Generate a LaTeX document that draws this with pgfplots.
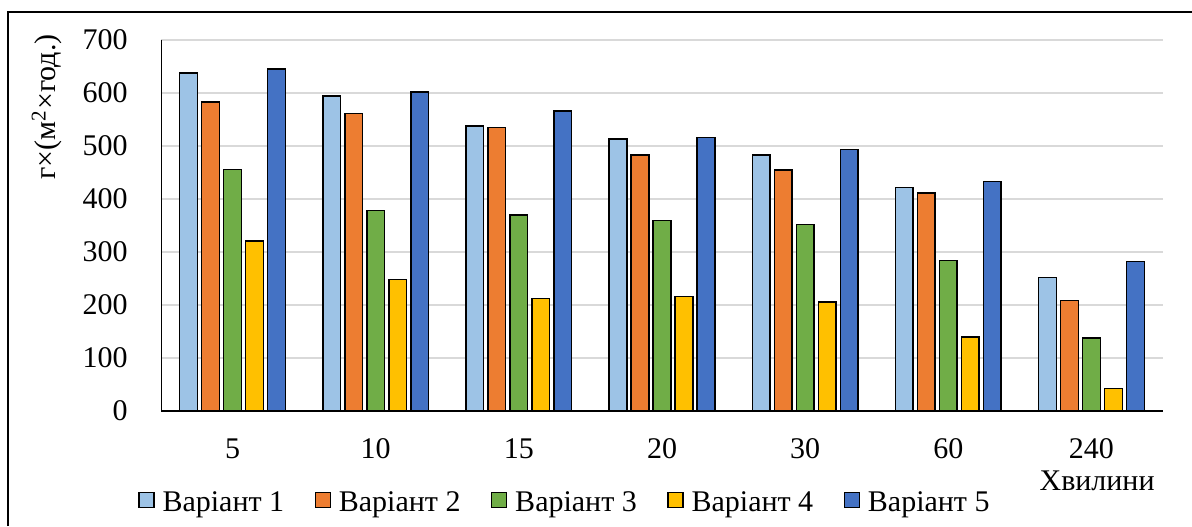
\documentclass[border=0pt]{standalone}
\usepackage{fontspec}
\setmainfont{Liberation Serif}
\usepackage{pgfplots}
\pgfplotsset{compat=1.18}
\definecolor{cA}{HTML}{9DC3E6}
\definecolor{cB}{HTML}{ED7D31}
\definecolor{cC}{HTML}{70AD47}
\definecolor{cD}{HTML}{FFC000}
\definecolor{cE}{HTML}{4472C4}
\definecolor{gridc}{HTML}{D9D9D9}
\newcommand{\fs}{\fontsize{15pt}{18pt}\selectfont}
\begin{document}
\begin{tikzpicture}[font=\fs]
\useasboundingbox (0,0) rectangle (596pt,-263pt);
\draw[line width=1pt] (4pt,-263pt) -- (4pt,-6pt) -- (596pt,-6pt);
\begin{axis}[
  at={(80.5pt,-205.5pt)}, anchor=south west,
  scale only axis, width=501pt, height=185.5pt,
  xmin=-0.5, xmax=6.5, ymin=0, ymax=700,
  xtick={0,...,6}, xticklabels={5,10,15,20,30,60,240},
  ytick={0,100,...,700},
  major tick length=0pt,
  axis x line*=bottom, axis y line*=left,
  xtick pos=bottom, ytick pos=left,
  x axis line style={black, line width=0.8pt},
  y axis line style={black, line width=0.5pt},
  ymajorgrids, grid style={draw=gridc, line width=0.8pt},
  ybar=2.15pt, bar width=8.85pt,
  /pgf/number format/assume math mode=true,
  tick label style={font=\fs},
  yticklabel style={anchor=east, inner sep=0pt, xshift=-16.5pt},
  xticklabel style={anchor=base, inner sep=0pt, yshift=-23.5pt},
  every axis plot/.append style={draw=black, line width=0.7pt},
  legend columns=5,
  legend style={font=\fs, draw=none, inner sep=0pt, fill=none,
    at={(-0.023,-0.249)}, anchor=west,
    nodes={inner sep=0pt},
    /tikz/every odd column/.append style={column sep=4pt},
    /tikz/every even column/.append style={column sep=15.25pt}},
  legend image code/.code={\draw[#1, line width=0.6pt] (0pt,-2.25pt) rectangle (7.5pt,5.25pt);},
]
\addplot[fill=cA] coordinates {(0,638) (1,594) (2,538) (3,513) (4,483) (5,422) (6,252)};
\addplot[fill=cB] coordinates {(0,583) (1,561) (2,535) (3,483) (4,455) (5,411) (6,209)};
\addplot[fill=cC] coordinates {(0,456) (1,378) (2,370) (3,360) (4,352) (5,284) (6,138)};
\addplot[fill=cD] coordinates {(0,321) (1,248) (2,212) (3,216) (4,206) (5,140) (6,42)};
\addplot[fill=cE] coordinates {(0,645) (1,602) (2,566) (3,516) (4,493) (5,433) (6,282)};
\legend{Варіант 1, Варіант 2, Варіант 3, Варіант 4, Варіант 5}
\end{axis}
\node[anchor=base east, inner sep=0pt] at (577.5pt,-245pt) {Хвилини};
\node[rotate=90, inner sep=0pt] at (23.5pt,-53.5pt) {г×(м\textsuperscript{2}×год.)};
\end{tikzpicture}
\end{document}
